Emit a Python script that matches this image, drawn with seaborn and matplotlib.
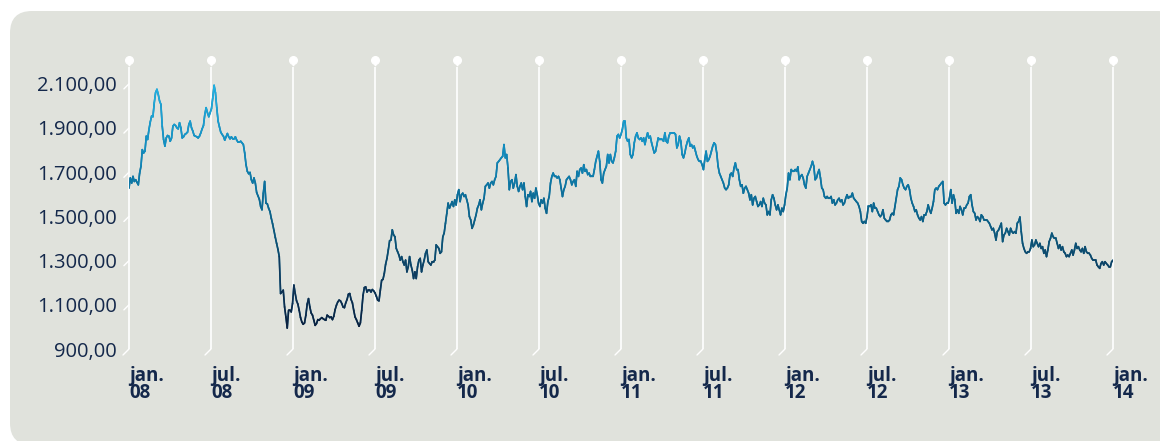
import numpy as np
import pandas as pd
import seaborn as sns
import matplotlib
matplotlib.use("Agg")
import matplotlib.pyplot as plt
from matplotlib.collections import LineCollection
from matplotlib.colors import LinearSegmentedColormap, Normalize
from matplotlib.patches import FancyBboxPatch
from matplotlib.transforms import IdentityTransform

# ---------------- data (index price, jan/08 -> jan/14) ----------------
prices_part1 = [
    1628, 1674, 1651, 1681, 1658, 1666, 1654, 1643, 1696, 1727,
    1802, 1787, 1795, 1863, 1848, 1893, 1927, 1954, 1951, 2014,
    2060, 2075, 2052, 2022, 2007, 1908, 1848, 1818, 1855, 1866,
    1863, 1840, 1855, 1908, 1916, 1911, 1901, 1896, 1924, 1901,
    1855, 1860, 1871, 1875, 1881, 1916, 1931, 1901, 1886, 1866,
    1863, 1860, 1855, 1863, 1878, 1896, 1911, 1961, 1992, 1969,
    1951, 1969, 1987, 2037, 2093, 2060, 1992, 1931, 1905, 1881,
    1871, 1863, 1845, 1860, 1875, 1860, 1851, 1860, 1851, 1851,
    1860, 1845, 1836, 1836, 1840, 1833, 1825, 1787, 1734, 1704,
    1693, 1699, 1666, 1651, 1674, 1651, 1608, 1593, 1578, 1545,
    1530, 1605, 1658, 1560, 1557, 1537, 1522, 1492, 1466, 1436,
    1405, 1378, 1351, 1318, 1151, 1158, 1166, 1090, 1045, 995,
    1075, 1075, 1068, 1106, 1189,
]
prices_part2 = [
    1151, 1118, 1103, 1075, 1042, 1022, 1012, 1018, 1053, 1103,
    1128, 1090, 1063, 1053, 1030, 1007, 1015, 1033, 1030, 1037,
    1042, 1037, 1033, 1030, 1053, 1048, 1042, 1045, 1033, 1048,
    1078, 1098, 1113, 1121, 1118, 1106, 1090, 1087, 1109, 1124,
    1148, 1151, 1124, 1109, 1075, 1045, 1033, 1018, 1003, 1018,
    1075, 1143, 1178, 1181, 1158, 1166, 1166, 1158, 1169, 1163,
    1154, 1139, 1121, 1118, 1166, 1211, 1215, 1242, 1284, 1310,
    1348, 1390, 1393, 1439, 1416, 1408, 1355, 1340, 1325, 1302,
    1318, 1295, 1280, 1302, 1249, 1272, 1318, 1280, 1257, 1219,
    1249, 1219, 1272, 1302, 1310, 1249, 1280, 1302, 1333, 1348,
    1295, 1287, 1280, 1295, 1295, 1302, 1371, 1363, 1355, 1333,
    1340, 1408, 1424, 1469, 1514, 1560, 1537, 1552, 1567, 1545,
    1575, 1552, 1598, 1621,
]
prices_part3 = [
    1567, 1598, 1605, 1590, 1598, 1575, 1552, 1499, 1484, 1446,
    1461, 1484, 1507, 1537, 1552, 1575, 1530, 1560, 1582, 1636,
    1643, 1651, 1628, 1651, 1658, 1643, 1666, 1681, 1742, 1749,
    1757, 1765, 1772, 1825, 1765, 1780, 1719, 1621, 1658, 1666,
    1628, 1651, 1689, 1636, 1613, 1636, 1651, 1621, 1651, 1590,
    1545, 1598, 1590, 1613, 1567, 1605, 1582, 1628, 1598, 1560,
    1545, 1575, 1560, 1582, 1537, 1514, 1567, 1590, 1651, 1681,
    1696, 1681, 1681, 1674, 1681, 1666, 1628, 1590, 1621, 1636,
    1666, 1674, 1681, 1666, 1643, 1658, 1666, 1636, 1704, 1681,
    1712, 1719, 1696, 1734, 1704, 1712, 1689, 1696, 1681, 1681,
    1681, 1712, 1749, 1772, 1795, 1749, 1666, 1651, 1696, 1712,
    1727, 1780, 1742, 1780, 1749, 1742, 1765, 1795, 1863, 1871,
    1855, 1871, 1893, 1931,
]
prices_part4 = [
    1931, 1855, 1840, 1848, 1780, 1765, 1780, 1833, 1863, 1878,
    1855, 1848, 1855, 1840, 1855, 1825, 1855, 1878, 1855, 1863,
    1833, 1810, 1787, 1795, 1825, 1855, 1848, 1848, 1848, 1840,
    1878, 1840, 1833, 1863, 1878, 1878, 1878, 1878, 1871, 1810,
    1825, 1863, 1840, 1780, 1765, 1787, 1818, 1840, 1855, 1818,
    1825, 1810, 1818, 1795, 1772, 1757, 1749, 1749, 1734, 1712,
    1757, 1795, 1749, 1757, 1772, 1795, 1818, 1833, 1825, 1787,
    1727, 1696, 1681, 1666, 1651, 1628, 1621, 1628, 1643, 1689,
    1696, 1681, 1719, 1742, 1712, 1712, 1666, 1636, 1643, 1605,
    1628, 1636, 1621, 1605, 1575, 1598, 1552, 1582, 1590, 1567,
    1545, 1552, 1567, 1545, 1582, 1560, 1552, 1507, 1522, 1507,
    1575, 1598, 1582, 1552, 1530, 1552, 1530, 1507, 1537, 1522,
    1552, 1598, 1628, 1696,
]
prices_part5 = [
    1666, 1712, 1704, 1704, 1712, 1704, 1724, 1666, 1681, 1689,
    1674, 1643, 1628, 1681, 1696, 1712, 1727, 1749, 1727, 1666,
    1674, 1696, 1712, 1674, 1628, 1621, 1590, 1582, 1590, 1582,
    1582, 1590, 1560, 1575, 1552, 1560, 1575, 1582, 1567, 1575,
    1552, 1560, 1582, 1598, 1582, 1590, 1590, 1605, 1582, 1575,
    1567, 1560, 1545, 1522, 1477, 1469, 1477, 1469, 1499, 1545,
    1545, 1552, 1522, 1560, 1537, 1537, 1522, 1507, 1499, 1507,
    1530, 1492, 1484, 1477, 1477, 1484, 1507, 1514, 1507, 1545,
    1582, 1621, 1636, 1674, 1666, 1643, 1628, 1621, 1636, 1643,
    1621, 1582, 1560, 1545, 1522, 1530, 1507, 1492, 1484, 1499,
    1477, 1507, 1507, 1522, 1552, 1530, 1514, 1537, 1567, 1621,
    1628, 1621, 1636, 1643, 1651, 1658, 1560, 1552, 1560, 1560,
    1582, 1621, 1560, 1598,
]
prices_part6 = [
    1575, 1514, 1530, 1514, 1545, 1530, 1507, 1537, 1537, 1552,
    1560, 1590, 1598, 1552, 1522, 1514, 1484, 1499, 1492, 1477,
    1507, 1499, 1484, 1484, 1484, 1477, 1469, 1454, 1439, 1446,
    1424, 1393, 1431, 1439, 1454, 1469, 1386, 1416, 1424, 1446,
    1431, 1416, 1446, 1431, 1424, 1431, 1424, 1469, 1477, 1497,
    1431, 1378, 1355, 1340, 1333, 1340, 1340, 1355, 1393, 1363,
    1371, 1393, 1378, 1363, 1378, 1355, 1363, 1333, 1348, 1318,
    1348, 1386, 1401, 1424, 1408, 1401, 1401, 1378, 1355, 1371,
    1348, 1363, 1340, 1333, 1318, 1325, 1318, 1333, 1348, 1325,
    1348, 1378, 1355, 1363, 1348, 1340, 1355, 1333, 1363, 1340,
    1333, 1333, 1325, 1310, 1302, 1302, 1302, 1280, 1272, 1265,
    1287, 1295, 1280, 1295, 1287, 1280, 1272, 1272, 1295, 1302,
]

tick_labels = ["jan.\n08", "jul.\n08", "jan.\n09", "jul.\n09", "jan.\n10",
               "jul.\n10", "jan.\n11", "jul.\n11", "jan.\n12", "jul.\n12",
               "jan.\n13", "jul.\n13", "jan.\n14"]
y_ticks = [900, 1100, 1300, 1500, 1700, 1900, 2100]

prices = np.array(prices_part1 + prices_part2 + prices_part3 +
                  prices_part4 + prices_part5 + prices_part6, dtype=float)
n_half_years = len(tick_labels) - 1
t = np.linspace(0, n_half_years, len(prices))   # time in half-years since jan/08
df = pd.DataFrame({"t": t, "price": prices})

# ---------------- style ----------------
sns.set_theme(style="white")
plt.rcParams['font.family'] = ['Open Sans', 'DejaVu Sans']
navy = "#14284b"
panel_col = "#e0e2dc"

W, H = 1160, 441
fig = plt.figure(figsize=(W / 100, H / 100), dpi=100)
fig.patch.set_facecolor("white")

panel = FancyBboxPatch((10, -4), 1170, 434,
                       boxstyle="round,pad=0,rounding_size=22",
                       transform=IdentityTransform(), facecolor=panel_col,
                       edgecolor="none", zorder=0)
fig.add_artist(panel)

# axes placement (pixels): x 129..1113, y 60 (top) .. 350 (bottom = 900)
ax_left, ax_right, ax_top, ax_bot = 129, 1113, 60, 349
ax = fig.add_axes([ax_left / W, (H - ax_bot) / H,
                   (ax_right - ax_left) / W, (ax_bot - ax_top) / H])
ax.patch.set_alpha(0)
px_per_200 = 44.2
ytop = 900 + (ax_bot - ax_top) * 200 / px_per_200
ax.set_xlim(0, n_half_years)
ax.set_ylim(900, ytop)
for s in ax.spines.values():
    s.set_visible(False)

# vertical white guide lines with pins
ticks = np.arange(len(tick_labels))
ax.vlines(ticks, 900, ytop - 30, color="white", lw=1.2, zorder=1, clip_on=False)
ax.plot(ticks, np.full(len(ticks), ytop), 'o', ms=5.5, color="white",
        clip_on=False, zorder=2)
ax.plot(ticks, np.full(len(ticks), ytop - 14), 'v', ms=3.5, color="white",
        clip_on=False, zorder=2)
dx = 6 / 82
dy = 6 * 200 / px_per_200
for x in ticks:
    ax.plot([x, x - dx], [900, 900 - dy], color="white", lw=1.0,
            clip_on=False, zorder=1)
for v in y_ticks[1:]:
    ax.plot([0, -dx * 0.85], [v, v - dy * 0.85], color="white", lw=1.0,
            clip_on=False, zorder=1)

# the series: seaborn line, recoloured with a value gradient
sns.lineplot(data=df, x="t", y="price", ax=ax, color="#0e6a93", lw=1.1,
             zorder=3)
cmap = LinearSegmentedColormap.from_list(
    "grad",
    [(0.0, "#0b1f3d"), (0.18, "#0e3558"), (0.36, "#0d5376"),
     (0.55, "#0c6f9b"), (0.73, "#118dc0"), (1.0, "#22b4e6")])
norm = Normalize(1000, 2100)
pts = np.column_stack([df["t"].to_numpy(), df["price"].to_numpy()])
segs = np.stack([pts[:-1], pts[1:]], axis=1)
lc = LineCollection(segs, cmap=cmap, norm=norm, lw=1.2, zorder=4,
                    capstyle="round", joinstyle="round")
lc.set_array((df["price"].to_numpy()[:-1] + df["price"].to_numpy()[1:]) / 2)
ax.add_collection(lc)

# ticks / labels
def br(v):
    s = f"{v:,.2f}"
    return s.replace(",", "X").replace(".", ",").replace("X", ".")

ax.set_yticks(y_ticks)
ax.set_yticklabels([br(v) for v in y_ticks], fontsize=14.5, color=navy)
ax.tick_params(axis="y", length=0, pad=8.6)
ax.set_xticks(ticks)
ax.set_xticklabels(tick_labels, fontsize=13.5, fontweight="bold", color=navy,
                   ha="left", linespacing=0.8)
ax.tick_params(axis="x", length=0, pad=12)
ax.set_xlabel("")
ax.set_ylabel("")
ax.grid(False)

fig.savefig("out.png", dpi=100, facecolor="white")
